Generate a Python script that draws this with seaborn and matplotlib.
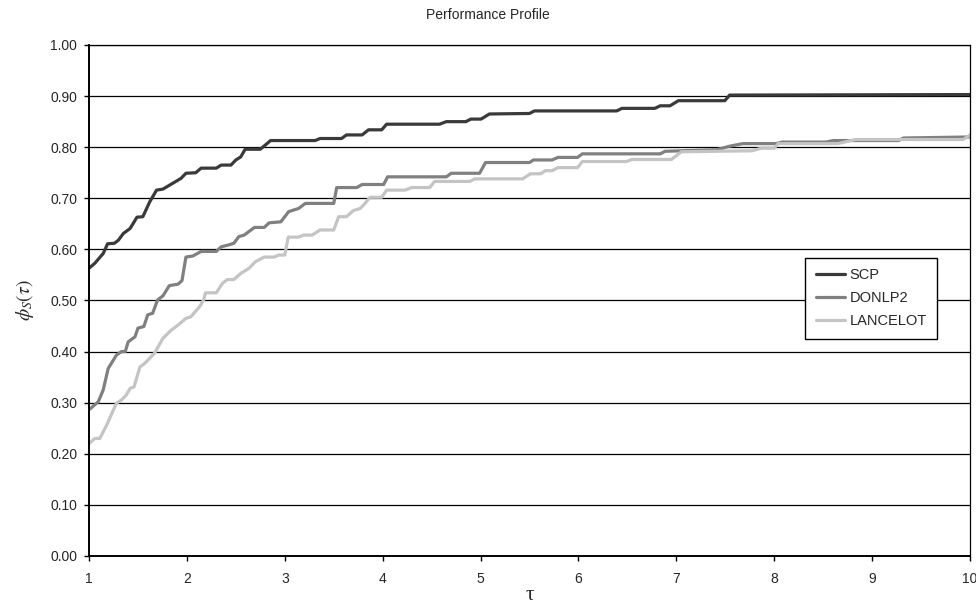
import pandas as pd
import numpy as np
import matplotlib
matplotlib.use("Agg")
import matplotlib.pyplot as plt
import seaborn as sns

scp_x = [1.0, 1.06, 1.145, 1.19, 1.26, 1.30, 1.35, 1.42, 1.49, 1.55, 1.62, 1.69, 1.755,
         1.94, 1.99, 2.09, 2.145, 2.30, 2.35, 2.45, 2.50, 2.55, 2.595, 2.75, 2.855, 3.31,
         3.36, 3.58, 3.63, 3.79, 3.855, 3.99, 4.04, 4.58, 4.65, 4.85, 4.90, 5.005, 5.09,
         5.50, 5.55, 6.39, 6.445, 6.78, 6.835, 6.935, 7.02, 7.495, 7.545, 10.0]
scp_y = [0.563, 0.573, 0.592, 0.611, 0.612, 0.618, 0.631, 0.641, 0.663, 0.664, 0.693, 0.716, 0.718,
         0.739, 0.749, 0.750, 0.759, 0.759, 0.765, 0.765, 0.775, 0.781, 0.796, 0.796, 0.813, 0.813,
         0.817, 0.817, 0.824, 0.824, 0.834, 0.834, 0.845, 0.845, 0.850, 0.850, 0.855, 0.855, 0.865,
         0.866, 0.871, 0.871, 0.876, 0.876, 0.881, 0.881, 0.891, 0.891, 0.902, 0.903]

donlp2_x = [1.0, 1.095, 1.145, 1.196, 1.28, 1.33, 1.37, 1.40, 1.47, 1.50, 1.56, 1.60, 1.65,
            1.70, 1.755, 1.82, 1.91, 1.95, 1.99, 2.06, 2.145, 2.30, 2.35, 2.43, 2.48, 2.53,
            2.585, 2.69, 2.79, 2.84, 2.96, 3.04, 3.14, 3.21, 3.50, 3.53, 3.735, 3.79, 4.01,
            4.05, 4.65, 4.70, 4.99, 5.05, 5.50, 5.54, 5.73, 5.79, 5.99, 6.04, 6.835, 6.885,
            7.41, 7.545, 7.68, 8.02, 8.08, 8.53, 8.60, 8.81, 9.27, 9.32, 10.0]
donlp2_y = [0.286, 0.302, 0.325, 0.367, 0.393, 0.400, 0.400, 0.419, 0.429, 0.446, 0.449, 0.472, 0.475,
            0.501, 0.509, 0.529, 0.532, 0.539, 0.585, 0.587, 0.596, 0.596, 0.605, 0.609, 0.612, 0.625,
            0.628, 0.643, 0.643, 0.652, 0.654, 0.674, 0.680, 0.690, 0.690, 0.721, 0.721, 0.727, 0.727,
            0.742, 0.742, 0.749, 0.749, 0.770, 0.770, 0.775, 0.775, 0.780, 0.780, 0.787, 0.787, 0.792,
            0.795, 0.802, 0.807, 0.807, 0.810, 0.810, 0.813, 0.813, 0.813, 0.818, 0.820]

lancelot_x = [1.0, 1.06, 1.11, 1.18, 1.28, 1.33, 1.38, 1.42, 1.46, 1.52, 1.57, 1.67, 1.755,
              1.84, 1.91, 1.99, 2.04, 2.13, 2.17, 2.19, 2.30, 2.365, 2.415, 2.48, 2.55, 2.635,
              2.70, 2.79, 2.89, 2.94, 3.00, 3.035, 3.14, 3.19, 3.28, 3.36, 3.50, 3.55, 3.63,
              3.70, 3.77, 3.82, 3.87, 3.99, 4.04, 4.23, 4.295, 4.48, 4.53, 4.89, 4.94, 5.43,
              5.51, 5.615, 5.66, 5.73, 5.79, 5.99, 6.04, 6.49, 6.545, 6.95, 7.05, 7.77, 7.87,
              8.00, 8.04, 8.65, 8.83, 9.93, 10.0]
lancelot_y = [0.220, 0.230, 0.230, 0.256, 0.299, 0.305, 0.315, 0.328, 0.331, 0.370, 0.377, 0.397, 0.426,
              0.442, 0.452, 0.465, 0.468, 0.488, 0.501, 0.515, 0.515, 0.534, 0.541, 0.541, 0.553, 0.563,
              0.576, 0.585, 0.585, 0.589, 0.589, 0.624, 0.624, 0.628, 0.628, 0.638, 0.638, 0.664, 0.664,
              0.676, 0.680, 0.690, 0.702, 0.702, 0.716, 0.716, 0.721, 0.721, 0.733, 0.733, 0.738, 0.738,
              0.748, 0.748, 0.754, 0.754, 0.760, 0.760, 0.772, 0.772, 0.776, 0.776, 0.791, 0.793, 0.798,
              0.798, 0.807, 0.807, 0.815, 0.815, 0.824]

solvers = ["SCP", "DONLP2", "LANCELOT"]
colors = ["#3a3a3a", "#808080", "#c4c4c4"]

frames = []
for name, xs, ys in zip(solvers, [scp_x, donlp2_x, lancelot_x], [scp_y, donlp2_y, lancelot_y]):
    frames.append(pd.DataFrame({"tau": xs, "phi": ys, "solver": name}))
df = pd.concat(frames, ignore_index=True)

sns.set_style("white")
plt.rcParams["font.family"] = ["Liberation Sans", "DejaVu Sans"]
plt.rcParams["mathtext.fontset"] = "stix"

fig = plt.figure(figsize=(9.76, 6.04), dpi=100)
ax = fig.add_axes([0.0912, 0.0795, 0.9027, 0.846])

sns.lineplot(data=df, x="tau", y="phi", hue="solver", hue_order=solvers,
             palette=colors, estimator=None, sort=False, linewidth=2.3, ax=ax)

ax.set_xlim(1, 10)
ax.set_ylim(0, 1)
ax.set_xticks(range(1, 11))
ax.set_yticks(np.arange(0, 1.01, 0.1))
ax.set_yticklabels([f"{v:.2f}" for v in np.arange(0, 1.01, 0.1)])
ax.tick_params(axis="both", direction="out", length=3.5, width=1, color="black",
               labelsize=10, left=True, bottom=True)
ax.tick_params(axis="x", pad=8)
ax.tick_params(axis="y", pad=5)
ax.yaxis.grid(True, color="black", linewidth=0.9)
ax.xaxis.grid(False)
ax.set_axisbelow(True)
for side in ["left", "bottom", "top", "right"]:
    ax.spines[side].set_visible(True)
    ax.spines[side].set_color("black")
ax.spines["left"].set_linewidth(1.4)
ax.spines["bottom"].set_linewidth(1.4)
ax.spines["top"].set_linewidth(0.9)
ax.spines["right"].set_linewidth(0.9)

ax.set_xlabel("τ", fontsize=15, labelpad=0, family="Liberation Serif")
ax.set_ylabel(r"$\phi_S(\tau)$", fontsize=14, labelpad=10)
fig.text(0.5, 0.975, "Performance Profile", ha="center", va="center", fontsize=10)

handles, labels = ax.get_legend_handles_labels()
leg = ax.legend(handles, labels, loc="upper left", bbox_to_anchor=(0.813, 0.583),
                borderaxespad=0, frameon=True, fancybox=False, fontsize=10.5,
                handlelength=2.0, handletextpad=0.35, labelspacing=0.62,
                borderpad=0.7, title=None)
leg.get_frame().set_edgecolor("black")
leg.get_frame().set_linewidth(1.0)
leg.get_frame().set_alpha(1)

fig.savefig("out.png", dpi=100)
